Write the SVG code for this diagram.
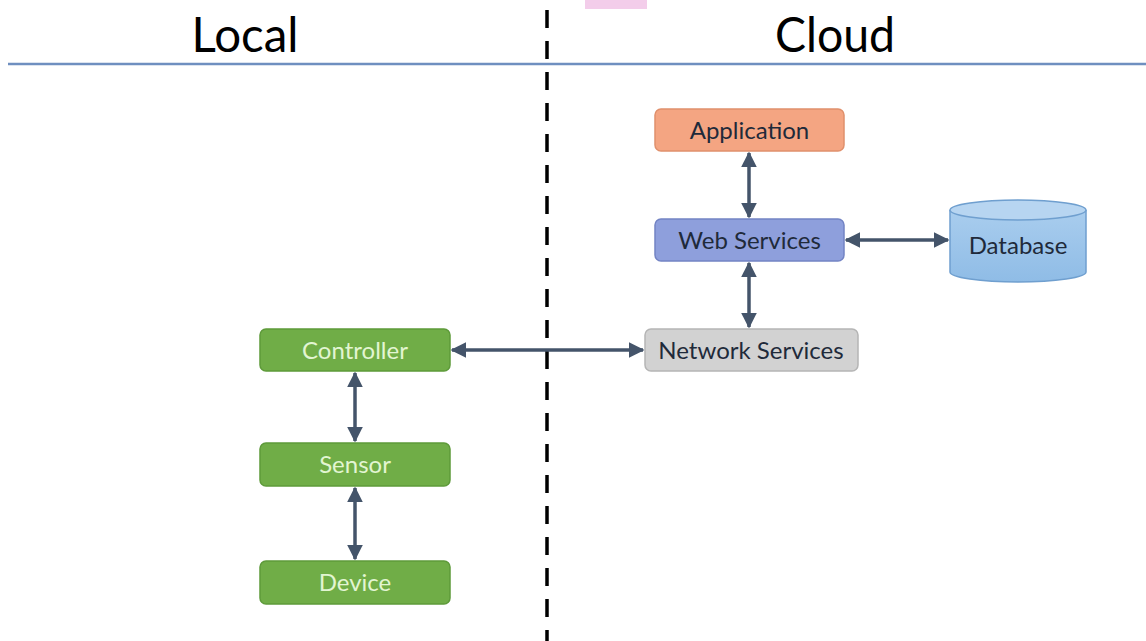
<svg xmlns="http://www.w3.org/2000/svg" width="1146" height="641" viewBox="0 0 1146 641">
<style>
.title{font-family:Lato,"Open Sans","Liberation Sans",sans-serif;font-size:48px;fill:#000}
.lbl{font-family:Lato,"Open Sans","Liberation Sans",sans-serif;font-size:24px;text-anchor:middle;dominant-baseline:central}
.green rect{fill:#70ad47;stroke:#5e9a3a;stroke-width:1.5}
.green text{fill:#e2f5d2}
.dark{fill:#1f2a3a}
.conn{stroke:#44546a;stroke-width:3.5;fill:none;marker-start:url(#ah);marker-end:url(#ah)}
</style>
<defs>
<marker id="ah" viewBox="0 0 10 10" refX="9" refY="5" markerWidth="4.5" markerHeight="4.5" orient="auto-start-reverse" markerUnits="strokeWidth">
<path d="M0,0 L10,5 L0,10 z" fill="#44546a"/>
</marker>
<linearGradient id="dbg" x1="0" y1="0" x2="0" y2="1"><stop offset="0" stop-color="#a9cdee"/><stop offset="1" stop-color="#8fbce6"/></linearGradient>
</defs>
<rect width="1146" height="641" fill="#fff"/>
<rect x="585" y="0" width="62" height="9" fill="#f3cdea"/>
<g id="header">
<text class="title" x="245" y="52" text-anchor="middle" textLength="107" lengthAdjust="spacingAndGlyphs">Local</text>
<text class="title" x="835" y="52" text-anchor="middle" textLength="120" lengthAdjust="spacingAndGlyphs">Cloud</text>
<line x1="8" y1="64" x2="1146" y2="64" stroke="#6f8fc0" stroke-width="2.5"/>
<line x1="547" y1="10" x2="547" y2="641" stroke="#000" stroke-width="3.5" stroke-dasharray="18 13"/>
</g>
<g id="connectors">
<line class="conn" x1="749" y1="153" x2="749" y2="217"/>
<line class="conn" x1="749" y1="263" x2="749" y2="327"/>
<line class="conn" x1="846" y1="240" x2="948" y2="240"/>
<line class="conn" x1="452" y1="350" x2="643" y2="350"/>
<line class="conn" x1="355" y1="373" x2="355" y2="441"/>
<line class="conn" x1="355" y1="488" x2="355" y2="559"/>
</g>
<g id="application">
<rect x="655" y="109" width="189" height="42" rx="6" fill="#f4a582" stroke="#e0906c" stroke-width="1.5"/>
<text class="lbl dark" x="749.5" y="129">Application</text>
</g>
<g id="web-services">
<rect x="655" y="219" width="189" height="42" rx="6" fill="#8e9fdc" stroke="#7384c4" stroke-width="1.5"/>
<text class="lbl dark" x="749.5" y="239">Web Services</text>
</g>
<g id="database">
<path d="M950,210 L950,272 A68,10 0 0 0 1086,272 L1086,210" fill="url(#dbg)" stroke="#6f9fcf" stroke-width="1.5"/>
<ellipse cx="1018" cy="210" rx="68" ry="10" fill="#b7d5f1" stroke="#6f9fcf" stroke-width="1.5"/>
<text class="lbl dark" x="1018" y="244">Database</text>
</g>
<g id="network-services">
<rect x="645" y="329" width="213" height="42" rx="6" fill="#d2d2d2" stroke="#b5b5b5" stroke-width="1.5"/>
<text class="lbl dark" x="751" y="349">Network Services</text>
</g>
<g id="controller" class="green">
<rect x="260" y="329" width="190" height="42" rx="6"/>
<text class="lbl" x="355" y="349">Controller</text>
</g>
<g id="sensor" class="green">
<rect x="260" y="443" width="190" height="43" rx="6"/>
<text class="lbl" x="355" y="463.5">Sensor</text>
</g>
<g id="device" class="green">
<rect x="260" y="561" width="190" height="43" rx="6"/>
<text class="lbl" x="355" y="581.5">Device</text>
</g>
</svg>
